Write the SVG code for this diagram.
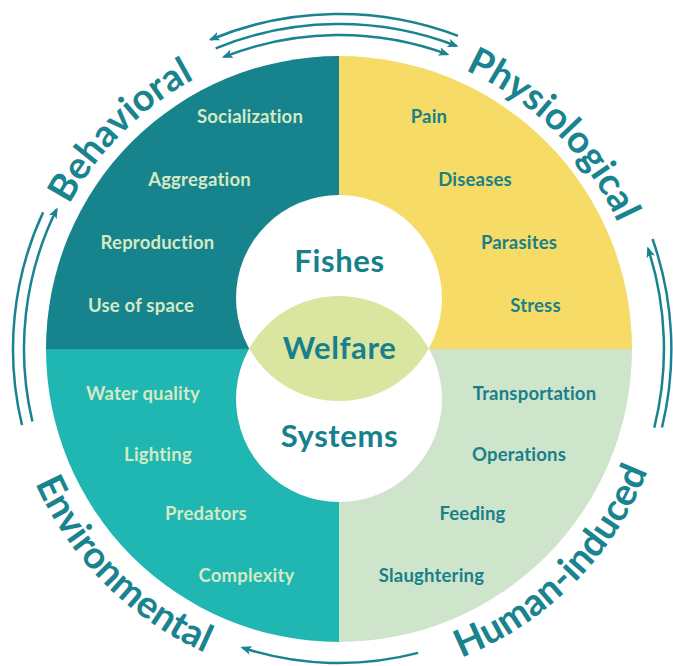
<svg xmlns="http://www.w3.org/2000/svg" width="673" height="666" viewBox="0 0 673 666">
  <style>
    .item { font-family: Lato, "Open Sans", sans-serif; font-weight: 700; font-size: 18.5px; letter-spacing: 0.2px; text-anchor: middle; }
    .light { fill: #D3EAC4; }
    .dark { fill: #17808A; }
    .center { font-family: Lato, "Open Sans", sans-serif; font-weight: 700; font-size: 31px; letter-spacing: 0.6px; fill: #17808A; text-anchor: middle; }
    .outer { font-family: Lato, "Open Sans", sans-serif; font-weight: 700; font-size: 38px; fill: #1A8390; text-anchor: middle; }
    .arc { fill: none; stroke: #1A8390; stroke-width: 2.5; }
  </style>
  <defs>
    <marker id="ah" viewBox="0 0 10 10" refX="8" refY="5" markerWidth="11" markerHeight="11" markerUnits="userSpaceOnUse" orient="auto-start-reverse">
      <path d="M0,1 L10,5 L0,9 L2.5,5 z" fill="#1A8390"/>
    </marker>
    <path id="topPath" d="M 33 349 A 306 306 0 0 1 645 349"/>
    <path id="botPath" d="M 7 349 A 332 332 0 0 0 671 349"/>
  </defs>
  <rect width="673" height="666" fill="#FFFFFF"/>

  <g id="behavioral">
    <path d="M 339 349 L 46 349 A 293 293 0 0 1 339 56 Z" fill="#17838C"/>
    <text class="item light" x="250" y="122.5">Socialization</text>
    <text class="item light" x="199.5" y="186">Aggregation</text>
    <text class="item light" x="157.5" y="249">Reproduction</text>
    <text class="item light" x="141" y="311.5">Use of space</text>
    <text class="outer"><textPath href="#topPath" startOffset="25%">Behavioral</textPath></text>
  </g>

  <g id="physiological">
    <path d="M 339 349 L 339 56 A 293 293 0 0 1 632 349 Z" fill="#F6DC66"/>
    <text class="item dark" x="429" y="122.5">Pain</text>
    <text class="item dark" x="475" y="186">Diseases</text>
    <text class="item dark" x="519" y="249">Parasites</text>
    <text class="item dark" x="535.5" y="311.5">Stress</text>
    <text class="outer"><textPath href="#topPath" startOffset="75%">Physiological</textPath></text>
  </g>

  <g id="environmental">
    <path d="M 339 349 L 339 642 A 293 293 0 0 1 46 349 Z" fill="#20B6B1"/>
    <text class="item light" x="143" y="400">Water quality</text>
    <text class="item light" x="158" y="460.5">Lighting</text>
    <text class="item light" x="206" y="520">Predators</text>
    <text class="item light" x="246.5" y="581.5">Complexity</text>
    <text class="outer"><textPath href="#botPath" startOffset="25%">Environmental</textPath></text>
  </g>

  <g id="human-induced">
    <path d="M 339 349 L 632 349 A 293 293 0 0 1 339 642 Z" fill="#CFE5CB"/>
    <text class="item dark" x="534.5" y="400">Transportation</text>
    <text class="item dark" x="519" y="460.5">Operations</text>
    <text class="item dark" x="472.5" y="520">Feeding</text>
    <text class="item dark" x="431.5" y="581.5">Slaughtering</text>
    <text class="outer"><textPath href="#botPath" startOffset="75%">Human-induced</textPath></text>
  </g>

  <g id="fishes">
    <circle cx="339" cy="298" r="103" fill="#FFFFFF"/>
    <text class="center" x="339.5" y="272">Fishes</text>
  </g>

  <g id="systems">
    <circle cx="339" cy="399" r="103" fill="#FFFFFF"/>
    <text class="center" x="339.5" y="447">Systems</text>
  </g>

  <g id="welfare">
    <path d="M 249.2 348.5 A 103 103 0 0 1 428.8 348.5 A 103 103 0 0 1 249.2 348.5 Z" fill="#DAE5A0"/>
    <text class="center" x="339.5" y="358.5">Welfare</text>
  </g>

  <g id="connectors">
    <path class="arc" d="M 458 35.8 A 335 335 0 0 0 210.8 39.5" marker-end="url(#ah)"/>
    <path class="arc" d="M 215.7 48.4 A 325 325 0 0 1 456.5 46" marker-end="url(#ah)"/>
    <path class="arc" d="M 223.9 56.9 A 314 314 0 0 1 447.4 54.3" marker-start="url(#ah)" marker-end="url(#ah)"/>
    <path class="arc" d="M 32.4 421.5 A 315 315 0 0 1 56.6 209.4" marker-end="url(#ah)"/>
    <path class="arc" d="M 22 425.1 A 326 326 0 0 1 43.1 212.2"/>
    <path class="arc" d="M 654.3 427.6 A 325 325 0 0 0 648.1 248.6" marker-end="url(#ah)"/>
    <path class="arc" d="M 662 427.5 A 332 332 0 0 0 652.5 239"/>
    <path class="arc" d="M 418.2 652.9 A 314 314 0 0 1 242.5 647.8" marker-end="url(#ah)"/>
  </g>
</svg>
